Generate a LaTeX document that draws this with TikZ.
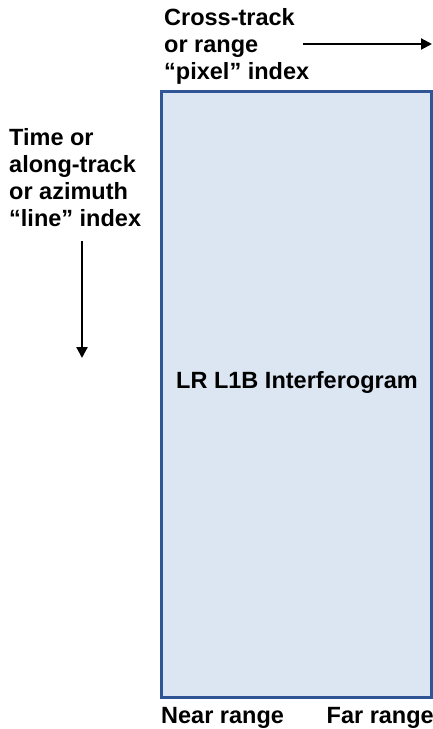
\documentclass[tikz,border=0pt]{standalone}
\usepackage{fontspec}
\setmainfont{Liberation Sans}
\usepackage{xcolor}
\usepackage{tikz}
\usetikzlibrary{arrows.meta}
\definecolor{bg}{HTML}{FFFFFF}
\definecolor{ink}{HTML}{000000}
\definecolor{edge}{HTML}{2F5597}
\definecolor{fillb}{HTML}{DCE6F2}
\tikzset{
  frame/.style={draw=edge, fill=fillb, line width=3pt},
  axis/.style={draw=ink, line width=2.2pt, -{Triangle[length=11pt,width=11pt]}},
  lab/.style={text=ink, font=\fontsize{23.5}{27}\selectfont\bfseries, inner sep=0pt},
  labm/.style={lab, align=left, anchor=north west},
}

\begin{document}
\begin{tikzpicture}[x=1pt,y=-1pt]
  \useasboundingbox (0,0) rectangle (433,729);
  \draw[frame] (161,91) rectangle (431,697);
  \node[labm] (xlab) at (164,8) {Cross-track\\or range\\``pixel'' index};
  \node[labm] (ylab) at (9,128) {Time or\\along-track\\or azimuth\\``line'' index};
  \coordinate (xa) at (303,44);
  \coordinate (xb) at (432,44);
  \coordinate (ya) at (82,241);
  \coordinate (yb) at (82,358);
  \draw[axis] (xa) -- (xb);
  \draw[axis] (ya) -- (yb);
  \node[lab, anchor=base] (ifg) at (297,388) {LR L1B Interferogram};
  \node[lab, anchor=base west] (near) at (161,723) {Near range};
  \node[lab, anchor=base east] (far) at (434,723) {Far range};
\end{tikzpicture}
\end{document}
